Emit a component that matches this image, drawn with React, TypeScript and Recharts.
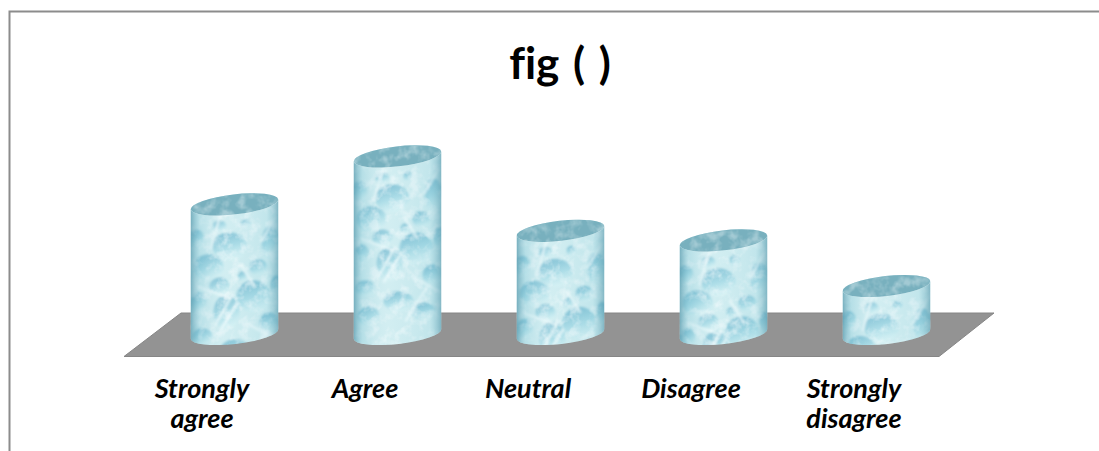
import { BarChart, Bar, XAxis, YAxis } from "recharts"

const categories = ["Strongly agree", "Agree", "Neutral", "Disagree", "Strongly disagree"]
const values = [27, 37, 21.5, 19.5, 10]

const data = categories.map((name, i) => ({ name, value: values[i] }))

const RX = 44
const RY = 10
const TILT = 6.5
const dx = RX * Math.cos((TILT * Math.PI) / 180)
const dy = RX * Math.sin((TILT * Math.PI) / 180)

// texture bubbles, relative to the top left of a cylinder
const bubbles = [
  [39, 52, 17, 14], [18, 73, 15, 13], [29, 92, 10, 9], [63, 102, 17, 16], [36, 118, 13, 17],
  [68, 73, 9, 8], [79, 128, 10, 10], [29, 32, 7, 6], [12, 142, 10, 8], [55, 30, 5, 5],
  [80, 48, 9, 16], [8, 108, 8, 10], [45, 155, 15, 10], [15, 170, 11, 10], [70, 165, 12, 9],
  [52, 82, 5, 5], [86, 92, 6, 11], [6, 45, 8, 10],
]

// light streaks between the bubbles
const streaks = [
  "M24 132 L42 100", "M30 136 L47 108", "M70 48 L86 22", "M50 70 L64 92", "M6 92 L40 104",
  "M58 130 L88 146", "M20 55 L30 20", "M52 175 L74 140",
]

function Cylinder(props: any) {
  const { x, y, width, height, index } = props
  const cx = x + width / 2
  const base = y + height
  const clipId = `body-${index}`
  const texId = `tex-${index}`
  const body = `M${cx - dx} ${y + dy} L${cx - dx} ${base + dy} A${RX} ${RY} ${-TILT} 0 0 ${cx + dx} ${base - dy} L${cx + dx} ${y - dy} A${RX} ${RY} ${-TILT} 0 1 ${cx - dx} ${y + dy} Z`
  const left = cx - RX
  const top = y - 10
  const lid = `rotate(${-TILT} ${cx} ${y})`
  return (
    <g>
      <defs>
        <clipPath id={clipId}>
          <path d={body} />
        </clipPath>
        <pattern id={texId} patternUnits="userSpaceOnUse" x={left} y={top} width={88} height={190}>
          <rect width={88} height={190} fill="#cdecf0" />
          <g filter="url(#soft)">
            {bubbles.map((b, i) => (
              <ellipse key={i} cx={b[0]} cy={b[1]} rx={b[2]} ry={b[3]} fill="url(#bubble)" />
            ))}
            {streaks.map((d, i) => (
              <path key={i} d={d} stroke="#eefbfc" strokeWidth={2.5} strokeOpacity={0.8} fill="none" />
            ))}
          </g>
        </pattern>
      </defs>
      <g clipPath={`url(#${clipId})`}>
        <rect x={left - 2} y={top - 5} width={width + 4} height={height + 40} fill={`url(#${texId})`} />
        <rect x={left - 2} y={top - 5} width={width + 4} height={height + 40} fill="#fff" filter="url(#mottle)" opacity={0.55} />
        <rect x={left - 2} y={top - 5} width={width + 4} height={height + 40} fill="url(#shade)" />
      </g>
      <ellipse cx={cx} cy={y} rx={RX} ry={RY} transform={lid} fill={`url(#${texId})`} />
      <ellipse cx={cx} cy={y} rx={RX} ry={RY} transform={lid} fill="#4f93a6" fillOpacity={0.68} />
      <ellipse cx={cx} cy={y} rx={RX} ry={RY} transform={lid} fill="#fff" filter="url(#mottle)" opacity={0.35} />
    </g>
  )
}

function CategoryTick({ x, y, payload }: any) {
  const words = String(payload.value).split(" ")
  return (
    <text x={x - 32} y={y} textAnchor="middle" fontFamily="Lato" fontWeight={700} fontStyle="italic" fontSize={27} fill="#000">
      {words.map((w, i) => (
        <tspan key={w} x={x - 32} y={398 + i * 30}>
          {w}
        </tspan>
      ))}
    </text>
  )
}

export default function App() {
  return (
    <div style={{ position: "absolute", left: 0, top: 0, width: 1099, height: 451, overflow: "hidden", background: "#fff" }}>
      <svg width={1099} height={451} style={{ position: "absolute", left: 0, top: 0 }}>
        <path d="M9.5 451 L9.5 11.5 L1099 11.5" fill="none" stroke="#8c8c8c" strokeWidth={2} />
        <polygon points="124,356.5 181,313 994,313 939,356.5" fill="#939393" stroke="#868686" strokeWidth={1} />
      </svg>
      <div
        style={{
          position: "absolute",
          left: 0,
          width: 1120,
          top: 34,
          textAlign: "center",
          fontFamily: "Lato",
          fontWeight: 700,
          fontSize: 44,
          lineHeight: "56px",
          fontVariantLigatures: "none",
          wordSpacing: 3,
          color: "#000",
        }}
      >
        fig ( )
      </div>
      <div style={{ position: "absolute", left: 0, top: 0 }}>
        <BarChart width={1099} height={451} data={data} margin={{ top: 142, right: 131.5, bottom: 0, left: 152.5 }} barSize={88}>
          <defs>
            <linearGradient id="bubble" x1="0.2" y1="0" x2="0.6" y2="1">
              <stop offset="0%" stopColor="#74b9d0" />
              <stop offset="55%" stopColor="#a6dbe6" />
              <stop offset="100%" stopColor="#d8f4f6" stopOpacity={0.7} />
            </linearGradient>
            <linearGradient id="shade" x1="0" y1="0" x2="1" y2="0">
              <stop offset="0%" stopColor="#4d8fa3" stopOpacity={0.85} />
              <stop offset="12%" stopColor="#7fc0d0" stopOpacity={0.3} />
              <stop offset="40%" stopColor="#ffffff" stopOpacity={0.1} />
              <stop offset="85%" stopColor="#7fc0d0" stopOpacity={0.15} />
              <stop offset="100%" stopColor="#4d8fa3" stopOpacity={0.75} />
            </linearGradient>
            <filter id="soft" x="-10%" y="-10%" width="120%" height="120%">
              <feGaussianBlur stdDeviation={1} />
            </filter>
            <filter id="mottle" x="0" y="0" width="100%" height="100%">
              <feTurbulence type="fractalNoise" baseFrequency={0.1} numOctaves={3} seed={4} />
              <feColorMatrix type="matrix" values="0 0 0 0 0.90  0 0 0 0 0.97  0 0 0 0 0.98  3 0 0 0 -1.3" />
              <feComposite in2="SourceGraphic" operator="in" />
            </filter>
          </defs>
          <XAxis dataKey="name" height={117} axisLine={false} tickLine={false} interval={0} tick={<CategoryTick />} />
          <YAxis hide domain={[0, 40]} />
          <Bar dataKey="value" isAnimationActive={false} shape={<Cylinder />} />
        </BarChart>
      </div>
    </div>
  )
}
